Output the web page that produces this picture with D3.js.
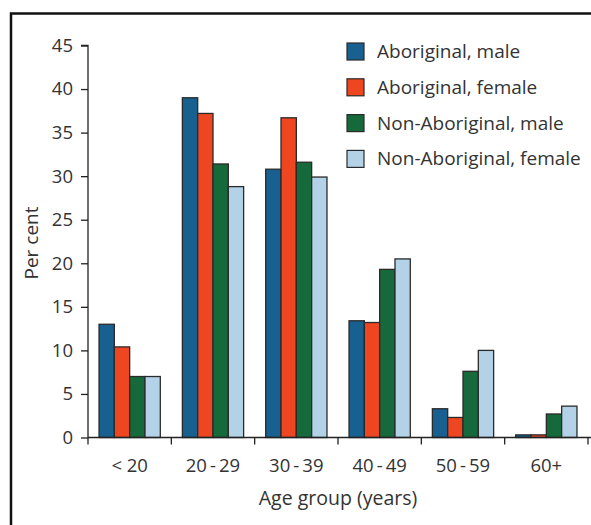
<!DOCTYPE html>
<html>
<head>
<meta charset="utf-8">
<script src="https://cdn.jsdelivr.net/npm/d3@7"></script>
<style>
  html, body { margin: 0; padding: 0; background: #fff; }
  svg { display: block; }
  text { font-family: "Open Sans", "Noto Sans", sans-serif; fill: #333; }
</style>
</head>
<body>
<svg id="chart" width="591" height="525"></svg>
<script>
const categories = ["< 20", "20\u2009-\u200929", "30\u2009-\u200939", "40\u2009-\u200949", "50\u2009-\u200959", "60+"];
const seriesNames = ["Aboriginal, male", "Aboriginal, female", "Non-Aboriginal, male", "Non-Aboriginal, female"];
const aboriginalMale = [13.0, 39.0, 30.8, 13.4, 3.3, 0.3];
const aboriginalFemale = [10.4, 37.2, 36.7, 13.2, 2.3, 0.3];
const nonAboriginalMale = [7.0, 31.4, 31.6, 19.3, 7.6, 2.7];
const nonAboriginalFemale = [7.0, 28.8, 29.9, 20.5, 10.0, 3.6];
const yTicks = [0, 5, 10, 15, 20, 25, 30, 35, 40, 45];
const colors = ["#17608f", "#ee4620", "#16693a", "#b3d2e8"];

const seriesValues = [aboriginalMale, aboriginalFemale, nonAboriginalMale, nonAboriginalFemale];

const svg = d3.select("#chart");

// outer frame (extends past right and bottom edges)
svg.append("rect")
  .attr("x", 11).attr("y", 13.5)
  .attr("width", 600).attr("height", 540)
  .attr("fill", "none").attr("stroke", "#111").attr("stroke-width", 2.5);

const mLeft = 88, mRight = 588, mTop = 45.5, mBottom = 437.5;

const y = d3.scaleLinear().domain([0, 45]).range([mBottom, mTop]);
const x0 = d3.scaleBand().domain(categories).range([mLeft, mRight]).paddingInner(0).paddingOuter(0);
const x1 = d3.scaleBand().domain(seriesNames).range([0, x0.bandwidth()]).paddingInner(0).paddingOuter(0.72);

// bars
const groups = svg.append("g").selectAll("g")
  .data(categories)
  .join("g")
  .attr("transform", d => `translate(${x0(d)},0)`);

groups.selectAll("rect")
  .data((d, i) => seriesNames.map((s, j) => ({ s, j, v: seriesValues[j][i] })))
  .join("rect")
  .attr("x", d => x1(d.s))
  .attr("y", d => y(d.v))
  .attr("width", x1.bandwidth())
  .attr("height", d => y(0) - y(d.v))
  .attr("fill", d => colors[d.j])
  .attr("stroke", "#2a2a2a")
  .attr("stroke-width", 1.3);

// y axis
const yAxis = svg.append("g")
  .attr("transform", `translate(${mLeft},0)`)
  .call(d3.axisLeft(y).tickValues(yTicks).tickSize(7).tickPadding(8));
yAxis.select(".domain").attr("stroke", "#222").attr("stroke-width", 1.3).attr("d", `M-7,${mTop}H0V${mBottom}`);
yAxis.selectAll(".tick line").attr("stroke", "#222").attr("stroke-width", 1.3);
yAxis.selectAll(".tick text").style("font-size", "18.5px").style("fill", "#333");

// x axis with ticks at band boundaries
const xAxis = svg.append("g")
  .attr("transform", `translate(0,${mBottom})`);
xAxis.append("line")
  .attr("x1", mLeft).attr("x2", mRight + 3)
  .attr("y1", 0).attr("y2", 0)
  .attr("stroke", "#222").attr("stroke-width", 1.3);
const boundaries = categories.map(c => x0(c)).concat([x0(categories[categories.length - 1]) + x0.bandwidth()]);
xAxis.selectAll(".bt")
  .data(boundaries)
  .join("line")
  .attr("class", "bt")
  .attr("x1", d => d).attr("x2", d => d)
  .attr("y1", 0).attr("y2", 7)
  .attr("stroke", "#222").attr("stroke-width", 1.3);
xAxis.selectAll(".lbl")
  .data(categories)
  .join("text")
  .attr("class", "lbl")
  .attr("x", d => x0(d) + x0.bandwidth() / 2)
  .attr("y", 34)
  .attr("text-anchor", "middle")
  .style("font-size", "18.5px")
  .text(d => d);

// axis titles
svg.append("text")
  .attr("x", 338).attr("y", 505)
  .attr("text-anchor", "middle")
  .style("font-size", "19.5px")
  .text("Age group (years)");
svg.append("text")
  .attr("transform", "translate(38,243) rotate(-90)")
  .attr("text-anchor", "middle")
  .style("font-size", "19px")
  .text("Per cent");

// legend
const legend = svg.append("g").attr("transform", "translate(347,43)");
const leg = legend.selectAll("g")
  .data(seriesNames)
  .join("g")
  .attr("transform", (d, i) => `translate(0,${i * 35.8})`);
leg.append("rect")
  .attr("width", 17).attr("height", 17)
  .attr("fill", (d, i) => colors[i])
  .attr("stroke", "#2a2a2a").attr("stroke-width", 1.2);
leg.append("text")
  .attr("x", 30).attr("y", 15)
  .style("font-size", "19px")
  .text(d => d);
</script>
</body>
</html>
